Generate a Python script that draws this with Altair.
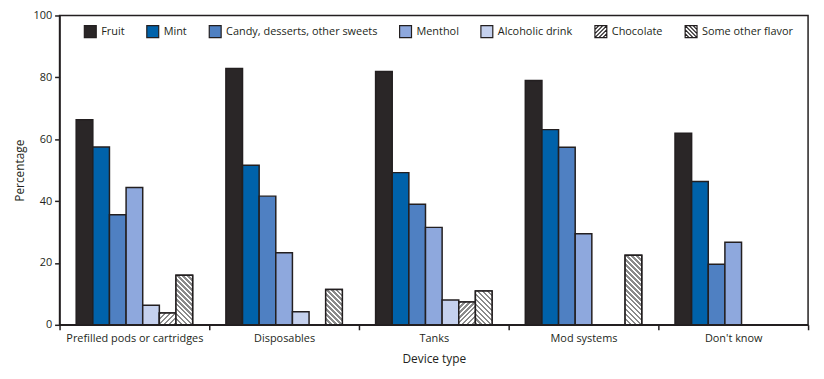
import math
import altair as alt
import pandas as pd

categories = ["Prefilled pods or cartridges", "Disposables", "Tanks", "Mod systems", "Don't know"]
flavors = ["Fruit", "Mint", "Candy, desserts, other sweets", "Menthol",
           "Alcoholic drink", "Chocolate", "Some other flavor"]
fruit = [66.3, 82.9, 81.9, 79.0, 61.9]
mint = [57.5, 51.6, 49.2, 63.1, 46.3]
candy = [35.6, 41.6, 39.0, 57.4, 19.6]
menthol = [44.4, 23.3, 31.5, 29.4, 26.7]
alcoholic = [6.3, 4.2, 8.0, None, None]
chocolate = [3.8, None, 7.4, None, None]
other = [16.0, 11.4, 10.9, 22.5, None]

series = [fruit, mint, candy, menthol, alcoholic, chocolate, other]
rows = []
for f, vals in zip(flavors, series):
    for c, v in zip(categories, vals):
        if v is not None:
            rows.append({"device": c, "flavor": f, "pct": v})
df = pd.DataFrame(rows)

INK = "#231f20"
FONT = "Open Sans"
colors = ["#2a2627", "#0062aa", "#4f80c2", "#8ea8dd", "#c5d1ee", "#ffffff", "#ffffff"]
hatch_kind = {"Chocolate": "fwd", "Some other flavor": "back"}

PLOT_W, PLOT_H = 755, 312
OFF_PAD = 1.0

# legend symbol shapes (unit square -1..1)
SQ = "M-1,-1H1V1H-1Z"


def hatch_symbol(kind):
    parts = [SQ]
    for c in [-1.33, -0.67, 0.0, 0.67, 1.33]:
        if kind == "fwd":  # lines x + y = c
            if c <= 0:
                a, b = (-1, c + 1), (c + 1, -1)
            else:
                a, b = (c - 1, 1), (1, c - 1)
        else:  # lines x - y = c
            if c <= 0:
                a, b = (-1, -1 - c), (1 + c, 1)
            else:
                a, b = (c - 1, -1), (1, 1 - c)
        parts.append(f"M{a[0]:.2f},{a[1]:.2f}L{b[0]:.2f},{b[1]:.2f}")
    return "".join(parts)


shapes = [SQ if f not in hatch_kind else hatch_symbol(hatch_kind[f]) for f in flavors]

x_scale = alt.Scale(domain=categories, paddingInner=0, paddingOuter=0)
off_scale = alt.Scale(domain=flavors, paddingInner=0, paddingOuter=OFF_PAD)
y_scale = alt.Scale(domain=[0, 100], nice=False)

x_enc = alt.X("device:N", sort=categories, scale=x_scale,
              axis=alt.Axis(title="Device type", labelAngle=0, tickBand="extent",
                            tickSize=5, tickColor=INK, domainColor=INK, domainWidth=1.5,
                            tickWidth=1.5, labelColor=INK, labelFont=FONT, labelFontSize=11,
                            labelPadding=3, titleFont=FONT, titleFontSize=12,
                            titleFontWeight="normal", titleColor=INK, titlePadding=10))
off_enc = alt.XOffset("flavor:N", scale=off_scale)
y_enc = alt.Y("pct:Q", scale=y_scale,
              axis=alt.Axis(title="Percentage", values=[0, 20, 40, 60, 80, 100], grid=False,
                            tickSize=5, tickColor=INK, domainColor=INK, domainWidth=1.5,
                            tickWidth=1.5, labelColor=INK, labelFont=FONT, labelFontSize=11,
                            labelPadding=3, titleFont=FONT, titleFontSize=12,
                            titleFontWeight="normal", titleColor=INK, titlePadding=6))

color_scale = alt.Scale(domain=flavors, range=colors)

legend_def = alt.Legend(title=None, orient="none", legendX=24, legendY=9,
                        direction="horizontal", columnPadding=19,
                        symbolSize=144, labelFont=FONT, labelFontSize=11,
                        labelColor=INK, labelOffset=4, symbolStrokeColor=INK,
                        symbolStrokeWidth=1.2, padding=0, symbolOpacity=1)

base = alt.Chart(df).mark_bar(stroke=INK, strokeWidth=1.5).encode(
    x=x_enc, xOffset=off_enc, y=y_enc,
    color=alt.Color("flavor:N", scale=color_scale),
)

legend_layer = alt.Chart(df).transform_filter("datum.pct < 0").mark_point(
    filled=True, stroke=INK, strokeWidth=1.2, size=144, opacity=1
).encode(
    x=x_enc, y=y_enc,
    color=alt.Color("flavor:N", scale=color_scale, legend=legend_def),
    shape=alt.Shape("flavor:N", scale=alt.Scale(domain=flavors, range=shapes), legend=legend_def),
)

bar_w = (PLOT_W / len(categories)) / (len(flavors) + 2 * OFF_PAD)
PERIOD = 5.0


def gradient(value, kind):
    h = value * PLOT_H / 100.0
    w = bar_w
    L = w + h
    k = (w + h) / (w * w + h * h)
    stops = []
    n = int(math.ceil(L / PERIOD)) + 1
    for i in range(n):
        s = min(i * PERIOD / L, 1.0)
        m = min((i + 0.5) * PERIOD / L, 1.0)
        e = min((i + 1) * PERIOD / L, 1.0)
        stops += [{"offset": s, "color": "#8a8a8a"}, {"offset": m, "color": "#8a8a8a"},
                  {"offset": m, "color": "#ffffff"}, {"offset": e, "color": "#ffffff"}]
        if e >= 1.0:
            break
    if kind == "fwd":
        return {"gradient": "linear", "x1": 0, "y1": 0, "x2": k * w, "y2": k * h, "stops": stops}
    return {"gradient": "linear", "x1": 0, "y1": 1, "x2": k * w, "y2": 1 - k * h, "stops": stops}


layers = [legend_layer, base]
for _, r in df.iterrows():
    if r["flavor"] in hatch_kind:
        layers.append(
            alt.Chart(df).transform_filter(
                (alt.datum.device == r["device"]) & (alt.datum.flavor == r["flavor"])
            ).mark_bar(fill=gradient(r["pct"], hatch_kind[r["flavor"]]), stroke=INK,
                       strokeWidth=1.5).encode(x=x_enc, xOffset=off_enc, y=y_enc)
        )

chart = alt.layer(*layers).properties(
    width=PLOT_W, height=PLOT_H, autosize="none",
    padding={"left": 52, "top": 6, "right": 8, "bottom": 40},
).configure_view(stroke=INK, strokeWidth=1.5)

chart.save("out.html", embed_options={"renderer": "svg", "actions": False})
